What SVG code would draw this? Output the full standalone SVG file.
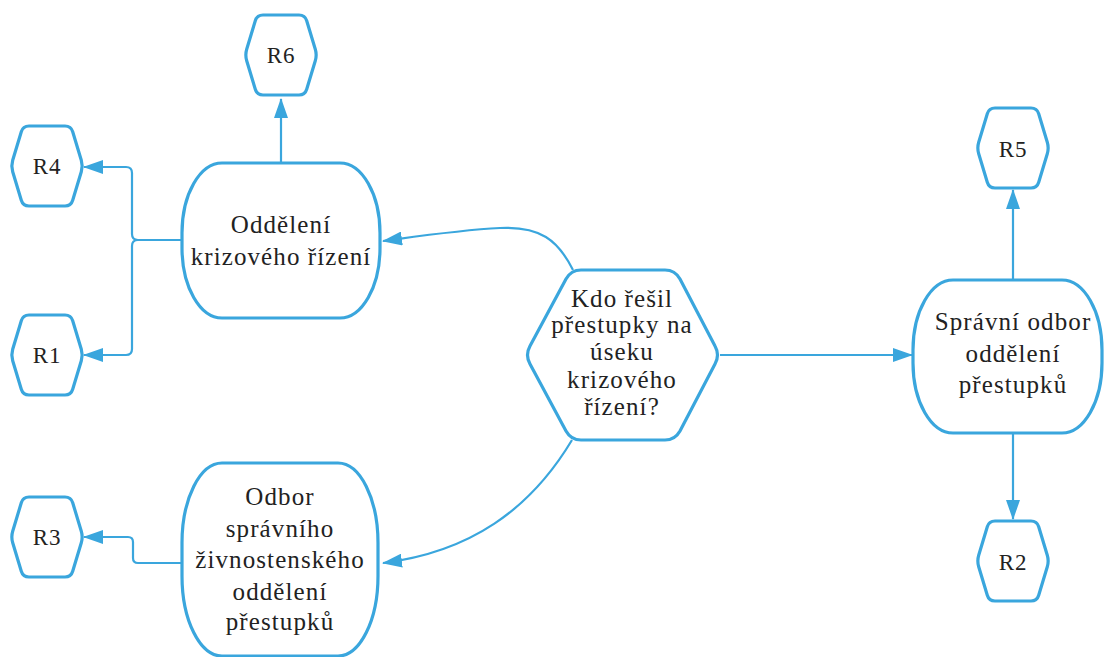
<svg xmlns="http://www.w3.org/2000/svg" xmlns:xlink="http://www.w3.org/1999/xlink" width="1104" height="657" viewBox="0 0 1104 657">
<style>
.shape{fill:#fff;stroke:#3aa6dd;stroke-width:3.2}
.conn{fill:none;stroke:#3aa6dd;stroke-width:2.2}
text{font-family:"Liberation Serif","Times New Roman",serif;fill:#222;text-anchor:middle}
.big{font-size:25px;letter-spacing:1.1px}
.small{font-size:23px;letter-spacing:0.8px}
</style>
<defs>
<marker id="arr" viewBox="0 0 20 14" refX="19" refY="7" markerWidth="20" markerHeight="14" markerUnits="userSpaceOnUse" orient="auto">
<path d="M0,0 L20,7 L0,14 Z" fill="#3aa6dd"/>
</marker>
<path id="hexS" d="M-18,-40 H18 Q24,-40 25.7,-34.3 L34.3,-5.7 Q36,0 34.3,5.7 L25.7,34.3 Q24,40 18,40 H-18 Q-24,40 -25.7,34.3 L-34.3,5.7 Q-36,0 -34.3,-5.7 L-25.7,-34.3 Q-24,-40 -18,-40 Z"/>
</defs>
<g id="connectors">
<path class="conn" d="M281,163 V99" marker-end="url(#arr)"/>
<path class="conn" d="M182,240 H138 Q132,240 132,234 V173 Q132,167 126,167 H84" marker-end="url(#arr)"/>
<path class="conn" d="M138,240 Q132,240 132,246 V349 Q132,355 126,355 H84" marker-end="url(#arr)"/>
<path class="conn" d="M573,270 C558,240 540,226 500,228 C460,230 420,236 383,241" marker-end="url(#arr)"/>
<path class="conn" d="M572,440 C530,510 470,552 383,563" marker-end="url(#arr)"/>
<path class="conn" d="M182,563 H138 Q133,563 133,558 V542 Q133,537 128,537 H84" marker-end="url(#arr)"/>
<path class="conn" d="M720,355 H912" marker-end="url(#arr)"/>
<path class="conn" d="M1013,280 V190" marker-end="url(#arr)"/>
<path class="conn" d="M1013,433 V519" marker-end="url(#arr)"/>
</g>
<g id="n-R6"><use xlink:href="#hexS" class="shape" transform="translate(281,55)"/><text class="small" x="281" y="63">R6</text></g>
<g id="n-R4"><use xlink:href="#hexS" class="shape" transform="translate(47,166)"/><text class="small" x="47" y="174">R4</text></g>
<g id="n-R1"><use xlink:href="#hexS" class="shape" transform="translate(47,355)"/><text class="small" x="47" y="363">R1</text></g>
<g id="n-R3"><use xlink:href="#hexS" class="shape" transform="translate(47,537)"/><text class="small" x="47" y="545">R3</text></g>
<g id="n-R5"><use xlink:href="#hexS" class="shape" transform="translate(1013,148)"/><text class="small" x="1013" y="157">R5</text></g>
<g id="n-R2"><use xlink:href="#hexS" class="shape" transform="translate(1013,561)"/><text class="small" x="1013" y="570">R2</text></g>
<g id="n-krizove">
<rect class="shape" x="182" y="163" width="198" height="155" rx="40" ry="70"/>
<text class="big" x="281" y="233">Oddělení</text>
<text class="big" x="281" y="265">krizového řízení</text>
</g>
<g id="n-odbor">
<rect class="shape" x="182" y="463" width="196" height="193" rx="40" ry="80"/>
<text class="big" x="280" y="505">Odbor</text>
<text class="big" x="280" y="537">správního</text>
<text class="big" x="280" y="568">živnostenského</text>
<text class="big" x="280" y="600">oddělení</text>
<text class="big" x="280" y="630">přestupků</text>
</g>
<g id="n-question">
<path class="shape" d="M581,270 H665 Q675,270 680,279 L715,346 Q720,355 715,364 L680,431 Q675,440 665,440 H581 Q571,440 566,431 L530,364 Q525,355 530,346 L566,279 Q571,270 581,270 Z"/>
<text class="big" x="622" y="307">Kdo řešil</text>
<text class="big" x="622" y="333">přestupky na</text>
<text class="big" x="622" y="360">úseku</text>
<text class="big" x="622" y="388">krizového</text>
<text class="big" x="622" y="415">řízení?</text>
</g>
<g id="n-spravni">
<rect class="shape" x="913" y="280" width="189" height="153" rx="40" ry="70"/>
<text class="big" x="1013" y="330">Správní odbor</text>
<text class="big" x="1013" y="362">oddělení</text>
<text class="big" x="1013" y="393">přestupků</text>
</g>
</svg>
